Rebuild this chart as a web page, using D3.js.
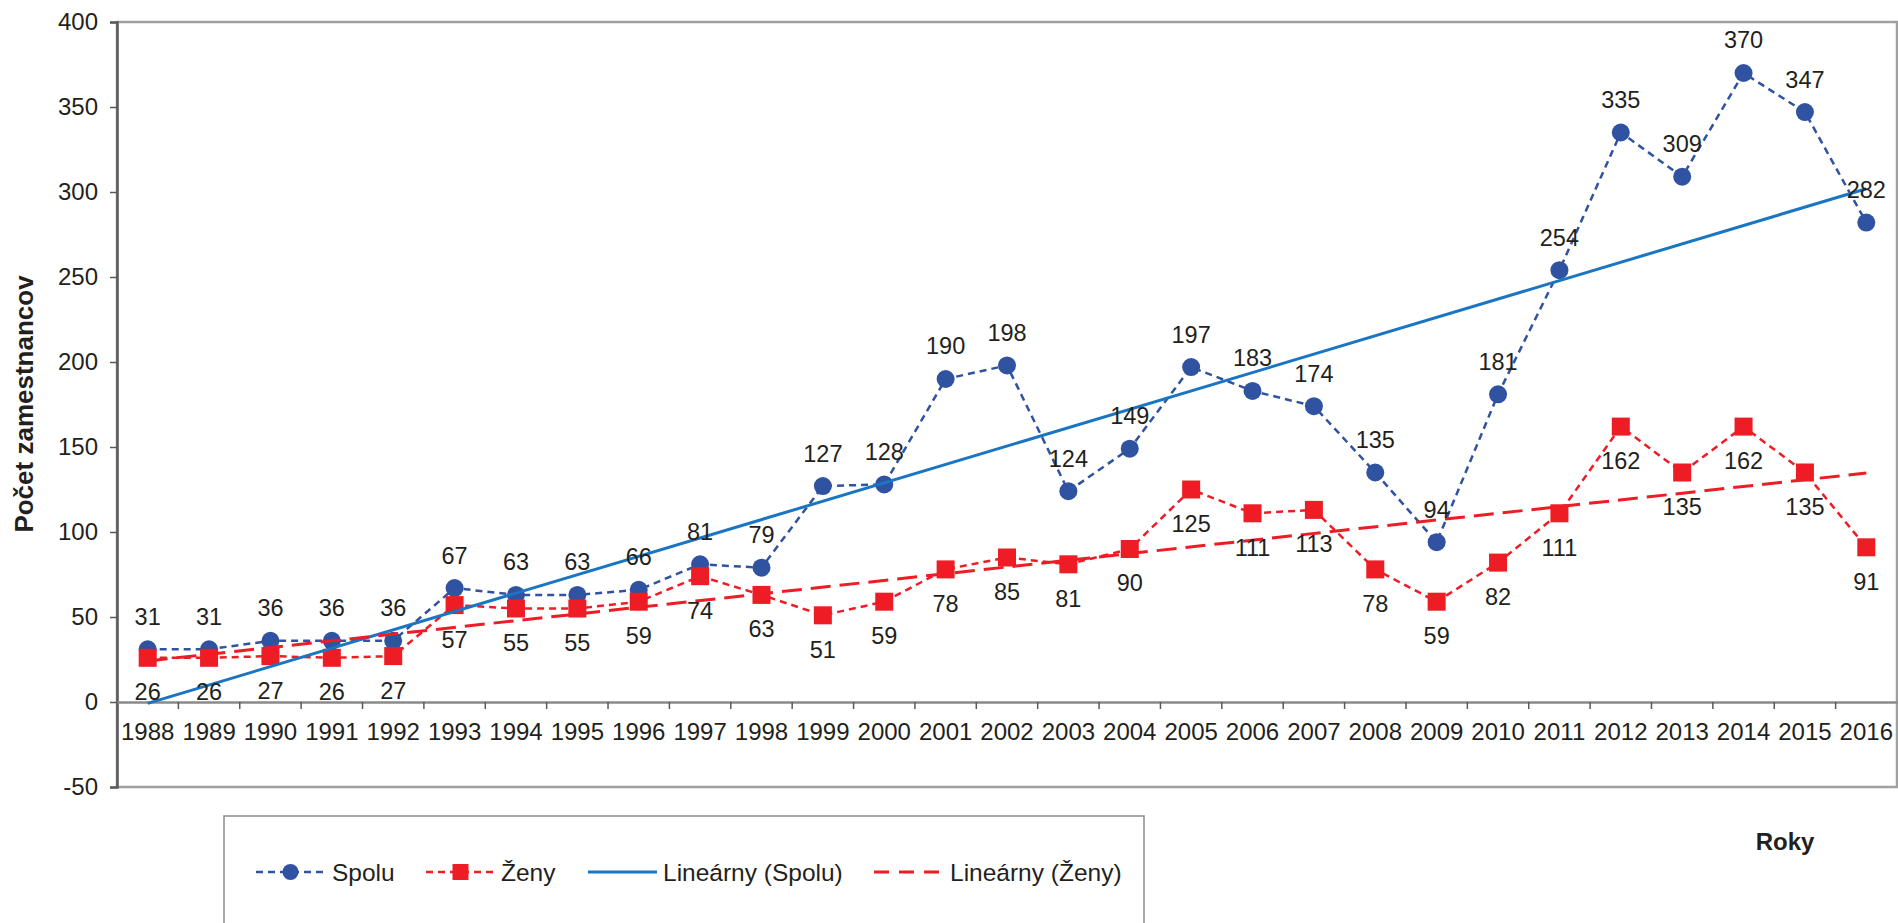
<!DOCTYPE html>
<html>
<head>
<meta charset="utf-8">
<script src="https://cdn.jsdelivr.net/npm/d3@7/dist/d3.min.js"></script>
<style>
  body { margin: 0; background: #fff; }
  svg { display: block; font-family: "Liberation Sans", Arial, sans-serif; }
  .axis text { fill: #231f20; font-size: 24px; }
  .lbl { fill: #231f20; font-size: 23.5px; }
</style>
</head>
<body>
<svg id="chart"></svg>
<script>
"use strict";

// chart data
var years = ["1988", "1989", "1990", "1991", "1992", "1993", "1994", "1995", "1996", "1997",
  "1998", "1999", "2000", "2001", "2002", "2003", "2004", "2005", "2006", "2007",
  "2008", "2009", "2010", "2011", "2012", "2013", "2014", "2015", "2016"];
var spolu = [31, 31, 36, 36, 36, 67, 63, 63, 66, 81, 79, 127, 128, 190, 198, 124, 149, 197, 183, 174,
  135, 94, 181, 254, 335, 309, 370, 347, 282];
var zeny = [26, 26, 27, 26, 27, 57, 55, 55, 59, 74, 63, 51, 59, 78, 85, 81, 90, 125, 111, 113,
  78, 59, 82, 111, 162, 135, 162, 135, 91];
var yTicks = [-50, 0, 50, 100, 150, 200, 250, 300, 350, 400];
var legendNames = ["Spolu", "Ženy", "Lineárny (Spolu)", "Lineárny (Ženy)"];

var W = 1898, H = 923;
var margin = { top: 22, right: 1, bottom: 136, left: 117 };
var width = W - margin.left - margin.right;
var height = H - margin.top - margin.bottom;

var blue = "#2f52a1", red = "#ee1c25", trendBlue = "#1a75c2";

var svg = d3.select("#chart").attr("width", W).attr("height", H);
var g = svg.append("g").attr("transform", "translate(" + margin.left + "," + margin.top + ")");

var x = d3.scaleBand().domain(years).range([0, width]);
var y = d3.scaleLinear().domain([-50, 400]).range([height, 0]);
function cx(i) { return x(years[i]) + x.bandwidth() / 2; }

// plot frame
g.append("rect").attr("x", 0).attr("y", 0).attr("width", width).attr("height", height)
  .attr("fill", "none").attr("stroke", "#a0a0a0").attr("stroke-width", 2.5);

// y axis
var yAxis = g.append("g").attr("class", "axis")
  .call(d3.axisLeft(y).tickValues(yTicks).tickSize(7).tickPadding(12)
    .tickFormat(function (d) { return String(d); }));
yAxis.select(".domain").attr("stroke", "#58595b").attr("stroke-width", 2.5);
yAxis.selectAll(".tick line").attr("stroke", "#58595b").attr("stroke-width", 1.5);

// x axis at zero, ticks between categories
var xAxis = g.append("g").attr("class", "axis").attr("transform", "translate(0," + y(0) + ")")
  .call(d3.axisBottom(x).tickSize(0).tickPadding(21));
xAxis.select(".domain").attr("stroke", "#8a8a8a").attr("stroke-width", 2.5);
xAxis.selectAll(".tick text").attr("dy", "0.71em");
g.append("g").selectAll("line").data(years.slice(1)).enter().append("line")
  .attr("x1", function (d) { return x(d); }).attr("x2", function (d) { return x(d); })
  .attr("y1", y(0)).attr("y2", y(0) + 7)
  .attr("stroke", "#58595b").attr("stroke-width", 1.5);

// axis titles
svg.append("text").attr("transform", "translate(33,404) rotate(-90)")
  .attr("text-anchor", "middle").attr("font-weight", "bold").attr("font-size", 26)
  .attr("fill", "#231f20").text("Počet zamestnancov");
svg.append("text").attr("x", 1785).attr("y", 850)
  .attr("text-anchor", "middle").attr("font-weight", "bold").attr("font-size", 24)
  .attr("fill", "#231f20").text("Roky");

// linear trend (least squares on year index)
function trend(vals) {
  var n = vals.length, mx = (n - 1) / 2, my = d3.mean(vals);
  var sxy = 0, sxx = 0;
  vals.forEach(function (v, i) { sxy += (i - mx) * (v - my); sxx += (i - mx) * (i - mx); });
  var b = sxy / sxx, a = my - b * mx;
  return [[0, a], [n - 1, a + b * (n - 1)]];
}

var line = d3.line().x(function (d, i) { return cx(i); }).y(function (d) { return y(d); });
var tline = d3.line().x(function (d) { return cx(d[0]); }).y(function (d) { return y(d[1]); });

// Spolu
g.append("path").datum(spolu).attr("d", line).attr("fill", "none")
  .attr("stroke", blue).attr("stroke-width", 2.5).attr("stroke-dasharray", "7,5");
g.append("g").selectAll("circle").data(spolu).enter().append("circle")
  .attr("cx", function (d, i) { return cx(i); }).attr("cy", function (d) { return y(d); })
  .attr("r", 9).attr("fill", blue);

// Ženy
g.append("path").datum(zeny).attr("d", line).attr("fill", "none")
  .attr("stroke", red).attr("stroke-width", 2.5).attr("stroke-dasharray", "7,5");
g.append("g").selectAll("rect").data(zeny).enter().append("rect")
  .attr("x", function (d, i) { return cx(i) - 9; }).attr("y", function (d) { return y(d) - 9; })
  .attr("width", 18).attr("height", 18).attr("fill", red);

// trend lines
g.append("path").datum(trend(spolu)).attr("d", tline).attr("fill", "none")
  .attr("stroke", trendBlue).attr("stroke-width", 3);
g.append("path").datum(trend(zeny)).attr("d", tline).attr("fill", "none")
  .attr("stroke", red).attr("stroke-width", 3).attr("stroke-dasharray", "20,9");

// data labels
g.append("g").selectAll("text").data(spolu).enter().append("text").attr("class", "lbl")
  .attr("x", function (d, i) { return cx(i); }).attr("y", function (d) { return y(d) - 33; })
  .attr("dy", "0.36em").attr("text-anchor", "middle").text(function (d) { return d; });
g.append("g").selectAll("text").data(zeny).enter().append("text").attr("class", "lbl")
  .attr("x", function (d, i) { return cx(i); }).attr("y", function (d) { return y(d) + 34; })
  .attr("dy", "0.36em").attr("text-anchor", "middle").text(function (d) { return d; });

// legend
var lg = svg.append("g");
lg.append("rect").attr("x", 224).attr("y", 816).attr("width", 920).attr("height", 140)
  .attr("fill", "none").attr("stroke", "#8a8a8a").attr("stroke-width", 1.5);
var ly = 872;
var items = [
  { x0: 256, x1: 325, tx: 332, color: blue, dash: "7,5", w: 2.5, marker: "circle" },
  { x0: 426, x1: 495, tx: 501, color: red, dash: "7,5", w: 2.5, marker: "square" },
  { x0: 588, x1: 657, tx: 663, color: trendBlue, dash: null, w: 3, marker: null },
  { x0: 874, x1: 944, tx: 950, color: red, dash: "15,10", w: 3, marker: null }
];
items.forEach(function (it, i) {
  lg.append("line").attr("x1", it.x0).attr("x2", it.x1).attr("y1", ly).attr("y2", ly)
    .attr("stroke", it.color).attr("stroke-width", it.w).attr("stroke-dasharray", it.dash);
  var mx = (it.x0 + it.x1) / 2;
  if (it.marker === "circle") {
    lg.append("circle").attr("cx", mx).attr("cy", ly).attr("r", 8).attr("fill", it.color);
  } else if (it.marker === "square") {
    lg.append("rect").attr("x", mx - 8).attr("y", ly - 8).attr("width", 16).attr("height", 16).attr("fill", it.color);
  }
  lg.append("text").attr("x", it.tx).attr("y", ly).attr("dy", "0.36em")
    .attr("font-size", 24.5).attr("fill", "#231f20").text(legendNames[i]);
});
</script>
</body>
</html>
